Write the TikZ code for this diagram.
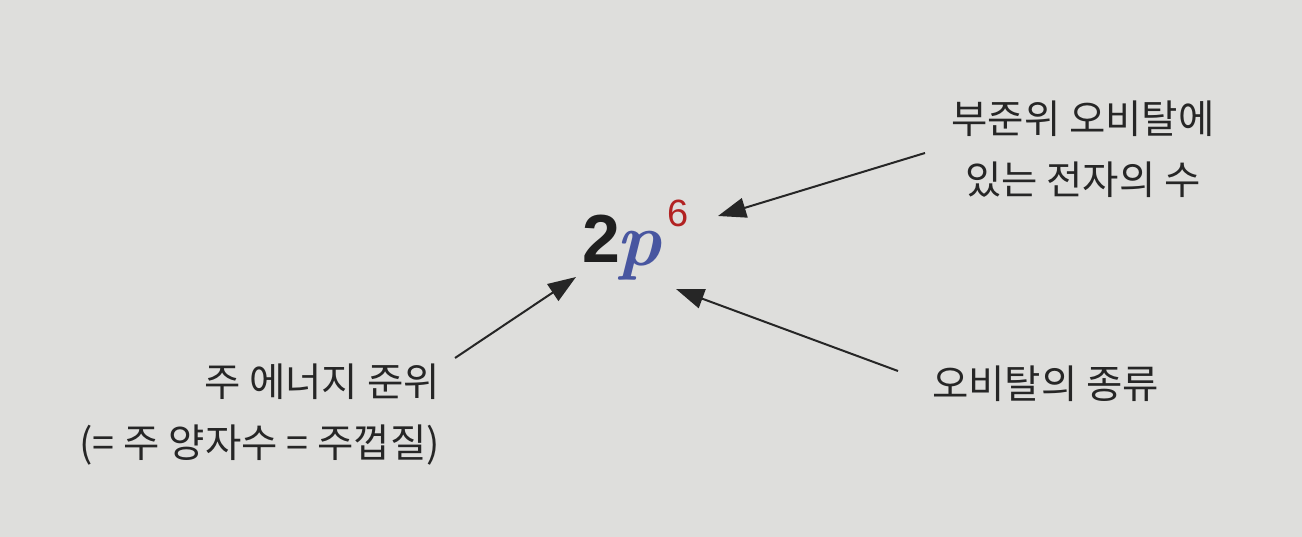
\documentclass[tikz,border=0pt]{standalone}
\usepackage{fontspec}
\setmainfont{Noto Sans CJK KR}
\newfontfamily\digitfont{Liberation Sans}
\newfontfamily\pfont{Latin Modern Roman}
\usetikzlibrary{arrows.meta}
\definecolor{bg}{RGB}{222,222,220}
\definecolor{ink}{RGB}{38,38,38}
\definecolor{pblue}{RGB}{72,86,160}
\definecolor{sixred}{RGB}{178,34,34}
\tikzset{
  lbl/.style={inner sep=0pt, text=ink, font=\fontsize{39.5}{61}\selectfont},
  ptr/.style={draw=ink, line width=2pt, -{Triangle[length=28pt,width=20pt]}},
}
\begin{document}
\begin{tikzpicture}[x=1pt,y=-1pt]
\fill[bg] (0,0) rectangle (1302,537);
\useasboundingbox (0,0) rectangle (1302,537);
% formula
\node[inner sep=0pt, anchor=base west, font=\digitfont\bfseries\fontsize{68}{68}\selectfont, text=black!88] (two) at (582,263) {2};
\node[inner sep=0pt, anchor=base west, font=\pfont\bfseries\itshape\fontsize{76}{76}\selectfont, text=pblue] (p) at (616,266) {p};
\node[inner sep=0pt, anchor=base west, font=\digitfont\fontsize{38}{38}\selectfont, text=sixred] (six) at (667,227) {6};
% labels
\node[lbl, align=center, anchor=base] (sub) at (1083,195) {부준위 오비탈에\\있는 전자의 수};
\node[lbl, align=right, anchor=base east] (main) at (440,457) {주 에너지 준위\\(= 주 양자수 = 주껍질)};
\node[lbl, anchor=base west] (kind) at (932,399) {오비탈의 종류};
% connector ends
\coordinate (s1) at (925,153);
\coordinate (t1) at (718,216);
\coordinate (s2) at (455,358);
\coordinate (t2) at (576,277);
\coordinate (s3) at (898,371);
\coordinate (t3) at (676,289);
\draw[ptr] (s1) -- (t1);
\draw[ptr] (s2) -- (t2);
\draw[ptr] (s3) -- (t3);
\end{tikzpicture}
\end{document}
